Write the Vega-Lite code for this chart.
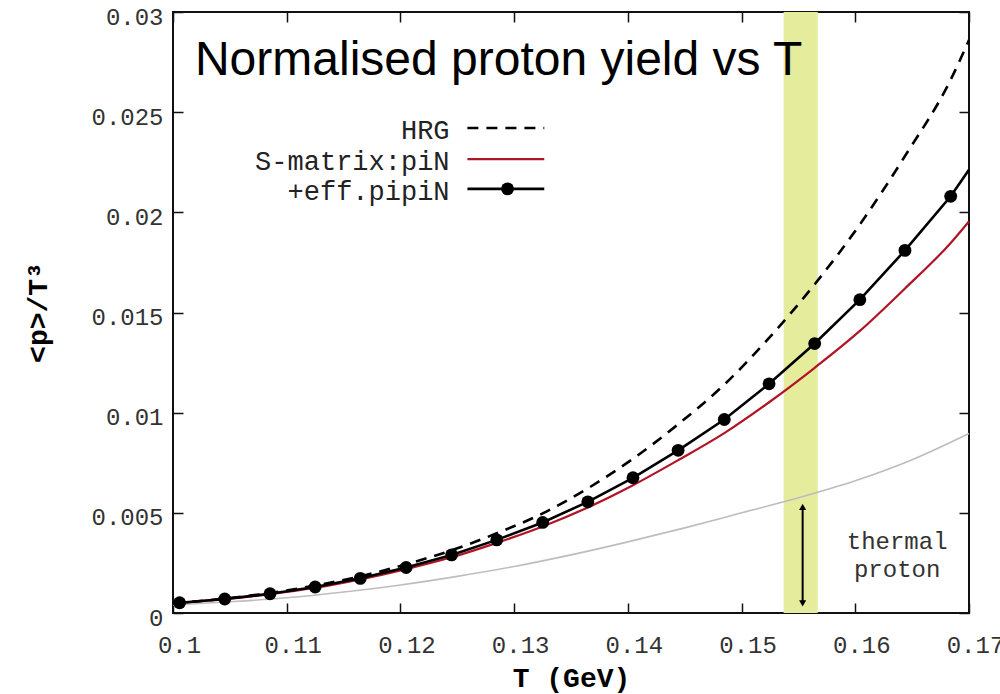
{
  "$schema": "https://vega.github.io/schema/vega-lite/v6.json",
  "width": 796,
  "height": 601,
  "autosize": {"type": "none"},
  "padding": {"left": 173, "top": 12, "right": 31, "bottom": 81},
  "background": "white",
  "config": {
    "view": {"stroke": "#111", "strokeWidth": 2},
    "axis": {"grid": false, "domain": false, "tickColor": "#111", "tickWidth": 1.5, "tickSize": -10, "labelOverlap": false, "labelFlush": false}
  },
  "resolve": {"axis": {"x": "independent", "y": "independent"}},
  "datasets": {
    "thermal": [
      {"T": 0.1, "v": 0.0004}, {"T": 0.105, "v": 0.00056}, {"T": 0.11, "v": 0.00076}, {"T": 0.115, "v": 0.00105},
      {"T": 0.12, "v": 0.0014}, {"T": 0.125, "v": 0.00183}, {"T": 0.13, "v": 0.00232}, {"T": 0.135, "v": 0.0029},
      {"T": 0.14, "v": 0.00355}, {"T": 0.145, "v": 0.00425}, {"T": 0.15, "v": 0.005}, {"T": 0.155, "v": 0.00575},
      {"T": 0.16, "v": 0.0066}, {"T": 0.165, "v": 0.00765}, {"T": 0.17, "v": 0.00896}
    ],
    "hrg": [
      {"T": 0.1, "v": 0.0005}, {"T": 0.10058, "v": 0.00052}, {"T": 0.10455, "v": 0.00072}, {"T": 0.10853, "v": 0.001},
      {"T": 0.1125, "v": 0.00137}, {"T": 0.11647, "v": 0.00183}, {"T": 0.1205, "v": 0.00243}, {"T": 0.1245, "v": 0.00313},
      {"T": 0.12847, "v": 0.00398}, {"T": 0.13251, "v": 0.00497}, {"T": 0.13648, "v": 0.00622}, {"T": 0.14045, "v": 0.0077},
      {"T": 0.14442, "v": 0.00942}, {"T": 0.14848, "v": 0.0114}, {"T": 0.15242, "v": 0.01373}, {"T": 0.15643, "v": 0.01641},
      {"T": 0.1604, "v": 0.01939}, {"T": 0.16437, "v": 0.02281}, {"T": 0.16839, "v": 0.02662}, {"T": 0.17, "v": 0.0286}
    ],
    "smatrix": [
      {"T": 0.1, "v": 0.00047}, {"T": 0.10058, "v": 0.0005}, {"T": 0.10455, "v": 0.00069}, {"T": 0.10853, "v": 0.00094},
      {"T": 0.1125, "v": 0.00126}, {"T": 0.11647, "v": 0.00168}, {"T": 0.1205, "v": 0.00219}, {"T": 0.1245, "v": 0.00278},
      {"T": 0.12847, "v": 0.0035}, {"T": 0.13251, "v": 0.00432}, {"T": 0.13648, "v": 0.00527}, {"T": 0.14045, "v": 0.00638},
      {"T": 0.14442, "v": 0.00763}, {"T": 0.14848, "v": 0.00898}, {"T": 0.15242, "v": 0.01052}, {"T": 0.15643, "v": 0.01224},
      {"T": 0.1604, "v": 0.01408}, {"T": 0.16437, "v": 0.0162}, {"T": 0.16839, "v": 0.01847}, {"T": 0.17, "v": 0.01955}
    ],
    "eff": [
      {"T": 0.1, "v": 0.00048}, {"T": 0.10058, "v": 0.00051}, {"T": 0.10455, "v": 0.0007}, {"T": 0.10853, "v": 0.00096},
      {"T": 0.1125, "v": 0.0013}, {"T": 0.11647, "v": 0.00173}, {"T": 0.1205, "v": 0.00227}, {"T": 0.1245, "v": 0.0029},
      {"T": 0.12847, "v": 0.00365}, {"T": 0.13251, "v": 0.00452}, {"T": 0.13648, "v": 0.00555}, {"T": 0.14045, "v": 0.00675},
      {"T": 0.14442, "v": 0.00812}, {"T": 0.14848, "v": 0.00966}, {"T": 0.15242, "v": 0.01144}, {"T": 0.15643, "v": 0.01345},
      {"T": 0.1604, "v": 0.01564}, {"T": 0.16437, "v": 0.0181}, {"T": 0.16839, "v": 0.0208}, {"T": 0.17, "v": 0.02213}
    ],
    "band": [{"T1": 0.1537, "T2": 0.1567}],
    "arrow": [{"T": 0.15537, "v1": 0.00048, "v2": 0.0053}],
    "notes": [
      {"T": 0.16368, "v": 0.00317, "text": "thermal"},
      {"T": 0.16368, "v": 0.00182, "text": "proton"}
    ],
    "title": [{"T": 0.10193, "v": 0.02687, "text": "Normalised proton yield vs T"}],
    "legend": [
      {"series": "HRG", "T": 0.12432, "T1": 0.12589, "T2": 0.13265, "Tm": 0.12942, "v": 0.02421},
      {"series": "S-matrix:piN", "T": 0.12432, "T1": 0.12589, "T2": 0.13265, "Tm": 0.12942, "v": 0.02266},
      {"series": "+eff.pipiN", "T": 0.12432, "T1": 0.12589, "T2": 0.13265, "Tm": 0.12942, "v": 0.02117}
    ]
  },
  "layer": [
    {
      "data": {"name": "band"},
      "mark": {"type": "rect", "color": "#e5ec9b"},
      "encoding": {
        "x": {"field": "T1", "type": "quantitative", "scale": {"domain": [0.1, 0.17], "nice": false, "zero": false}, "axis": null},
        "x2": {"field": "T2"}
      }
    },
    {
      "data": {"name": "title"},
      "mark": {"type": "text", "font": "Liberation Sans", "fontSize": 48, "align": "left", "baseline": "alphabetic", "color": "#000"},
      "encoding": {
        "x": {"field": "T", "type": "quantitative", "scale": {"domain": [0.1, 0.17], "nice": false, "zero": false}, "axis": null},
        "y": {"field": "v", "type": "quantitative", "scale": {"domain": [0, 0.03], "nice": false}, "axis": null},
        "text": {"field": "text"}
      }
    },
    {
      "data": {"name": "thermal"},
      "mark": {"type": "line", "color": "#bdbdbd", "strokeWidth": 1.6, "interpolate": "monotone"},
      "encoding": {
        "x": {"field": "T", "type": "quantitative", "scale": {"domain": [0.1, 0.17], "nice": false, "zero": false},
          "axis": {"orient": "bottom", "values": [0.1, 0.11, 0.12, 0.13, 0.14, 0.15, 0.16, 0.17], "format": "~g",
            "title": "T (GeV)", "labelFont": "Liberation Mono", "labelFontSize": 24, "labelColor": "#333",
            "labelPadding": 30, "labelOffset": 6, "titleFont": "Liberation Mono", "titleFontSize": 28, "titleFontWeight": "bold",
            "titleColor": "#000", "titleX": 398, "titleY": 73, "titleBaseline": "alphabetic", "titleAlign": "center"}},
        "y": {"field": "v", "type": "quantitative", "scale": {"domain": [0, 0.03], "nice": false},
          "axis": {"orient": "left", "values": [0, 0.005, 0.01, 0.015, 0.02, 0.025, 0.03], "format": "~g",
            "title": "<p>/T³", "labelFont": "Liberation Mono", "labelFontSize": 24, "labelColor": "#333",
            "labelPadding": 20, "labelOffset": 5, "labelBaseline": "middle", "titleFont": "Liberation Mono", "titleFontSize": 28, "titleFontWeight": "bold",
            "titleColor": "#000", "titleX": -135, "titleY": 300, "titleAngle": -90, "titleAlign": "center", "titleBaseline": "middle"}}
      }
    },
    {
      "data": {"name": "smatrix"},
      "mark": {"type": "line", "color": "#b01425", "strokeWidth": 2.2, "interpolate": "monotone"},
      "encoding": {
        "x": {"field": "T", "type": "quantitative", "scale": {"domain": [0.1, 0.17], "nice": false, "zero": false},
          "axis": {"orient": "top", "values": [0.1, 0.11, 0.12, 0.13, 0.14, 0.15, 0.16, 0.17], "labels": false, "title": null}},
        "y": {"field": "v", "type": "quantitative", "scale": {"domain": [0, 0.03], "nice": false},
          "axis": {"orient": "right", "values": [0, 0.005, 0.01, 0.015, 0.02, 0.025, 0.03], "labels": false, "title": null}}
      }
    },
    {
      "data": {"name": "hrg"},
      "mark": {"type": "line", "color": "#000", "strokeWidth": 2.6, "strokeDash": [11, 8], "interpolate": "monotone"},
      "encoding": {
        "x": {"field": "T", "type": "quantitative", "scale": {"domain": [0.1, 0.17], "nice": false, "zero": false}, "axis": null},
        "y": {"field": "v", "type": "quantitative", "scale": {"domain": [0, 0.03], "nice": false}, "axis": null}
      }
    },
    {
      "data": {"name": "eff"},
      "mark": {"type": "line", "color": "#000", "strokeWidth": 2.6},
      "encoding": {
        "x": {"field": "T", "type": "quantitative", "scale": {"domain": [0.1, 0.17], "nice": false, "zero": false}, "axis": null},
        "y": {"field": "v", "type": "quantitative", "scale": {"domain": [0, 0.03], "nice": false}, "axis": null}
      }
    },
    {
      "data": {"name": "eff"},
      "transform": [{"filter": "datum.T > 0.1 && datum.T < 0.17"}],
      "mark": {"type": "point", "filled": true, "color": "#000", "size": 165, "opacity": 1},
      "encoding": {
        "x": {"field": "T", "type": "quantitative", "scale": {"domain": [0.1, 0.17], "nice": false, "zero": false}, "axis": null},
        "y": {"field": "v", "type": "quantitative", "scale": {"domain": [0, 0.03], "nice": false}, "axis": null}
      }
    },
    {
      "data": {"name": "arrow"},
      "mark": {"type": "rule", "color": "#000", "strokeWidth": 2},
      "encoding": {
        "x": {"field": "T", "type": "quantitative", "scale": {"domain": [0.1, 0.17], "nice": false, "zero": false}, "axis": null},
        "y": {"field": "v1", "type": "quantitative", "scale": {"domain": [0, 0.03], "nice": false}, "axis": null},
        "y2": {"field": "v2"}
      }
    },
    {
      "data": {"name": "arrow"},
      "mark": {"type": "point", "shape": "triangle-up", "filled": true, "color": "#000", "size": 50, "opacity": 1},
      "encoding": {
        "x": {"field": "T", "type": "quantitative", "scale": {"domain": [0.1, 0.17], "nice": false, "zero": false}, "axis": null},
        "y": {"field": "v2", "type": "quantitative", "scale": {"domain": [0, 0.03], "nice": false}, "axis": null}
      }
    },
    {
      "data": {"name": "arrow"},
      "mark": {"type": "point", "shape": "triangle-down", "filled": true, "color": "#000", "size": 50, "opacity": 1},
      "encoding": {
        "x": {"field": "T", "type": "quantitative", "scale": {"domain": [0.1, 0.17], "nice": false, "zero": false}, "axis": null},
        "y": {"field": "v1", "type": "quantitative", "scale": {"domain": [0, 0.03], "nice": false}, "axis": null}
      }
    },
    {
      "data": {"name": "notes"},
      "mark": {"type": "text", "font": "Liberation Mono", "fontSize": 24, "align": "center", "baseline": "alphabetic", "color": "#333"},
      "encoding": {
        "x": {"field": "T", "type": "quantitative", "scale": {"domain": [0.1, 0.17], "nice": false, "zero": false}, "axis": null},
        "y": {"field": "v", "type": "quantitative", "scale": {"domain": [0, 0.03], "nice": false}, "axis": null},
        "text": {"field": "text"}
      }
    },
    {
      "data": {"name": "legend"},
      "mark": {"type": "text", "font": "Liberation Mono", "fontSize": 27, "align": "right", "baseline": "middle", "dy": 3, "color": "#222"},
      "encoding": {
        "x": {"field": "T", "type": "quantitative", "scale": {"domain": [0.1, 0.17], "nice": false, "zero": false}, "axis": null},
        "y": {"field": "v", "type": "quantitative", "scale": {"domain": [0, 0.03], "nice": false}, "axis": null},
        "text": {"field": "series"}
      }
    },
    {
      "data": {"name": "legend"},
      "transform": [{"filter": "datum.series == 'HRG'"}],
      "mark": {"type": "rule", "color": "#000", "strokeWidth": 2.6, "strokeDash": [11, 8]},
      "encoding": {
        "x": {"field": "T1", "type": "quantitative", "scale": {"domain": [0.1, 0.17], "nice": false, "zero": false}, "axis": null},
        "x2": {"field": "T2"},
        "y": {"field": "v", "type": "quantitative", "scale": {"domain": [0, 0.03], "nice": false}, "axis": null}
      }
    },
    {
      "data": {"name": "legend"},
      "transform": [{"filter": "datum.series == 'S-matrix:piN'"}],
      "mark": {"type": "rule", "color": "#b01425", "strokeWidth": 2.2},
      "encoding": {
        "x": {"field": "T1", "type": "quantitative", "scale": {"domain": [0.1, 0.17], "nice": false, "zero": false}, "axis": null},
        "x2": {"field": "T2"},
        "y": {"field": "v", "type": "quantitative", "scale": {"domain": [0, 0.03], "nice": false}, "axis": null}
      }
    },
    {
      "data": {"name": "legend"},
      "transform": [{"filter": "datum.series == '+eff.pipiN'"}],
      "mark": {"type": "rule", "color": "#000", "strokeWidth": 2.6},
      "encoding": {
        "x": {"field": "T1", "type": "quantitative", "scale": {"domain": [0.1, 0.17], "nice": false, "zero": false}, "axis": null},
        "x2": {"field": "T2"},
        "y": {"field": "v", "type": "quantitative", "scale": {"domain": [0, 0.03], "nice": false}, "axis": null}
      }
    },
    {
      "data": {"name": "legend"},
      "transform": [{"filter": "datum.series == '+eff.pipiN'"}],
      "mark": {"type": "point", "filled": true, "color": "#000", "size": 165, "opacity": 1},
      "encoding": {
        "x": {"field": "Tm", "type": "quantitative", "scale": {"domain": [0.1, 0.17], "nice": false, "zero": false}, "axis": null},
        "y": {"field": "v", "type": "quantitative", "scale": {"domain": [0, 0.03], "nice": false}, "axis": null}
      }
    }
  ]
}
